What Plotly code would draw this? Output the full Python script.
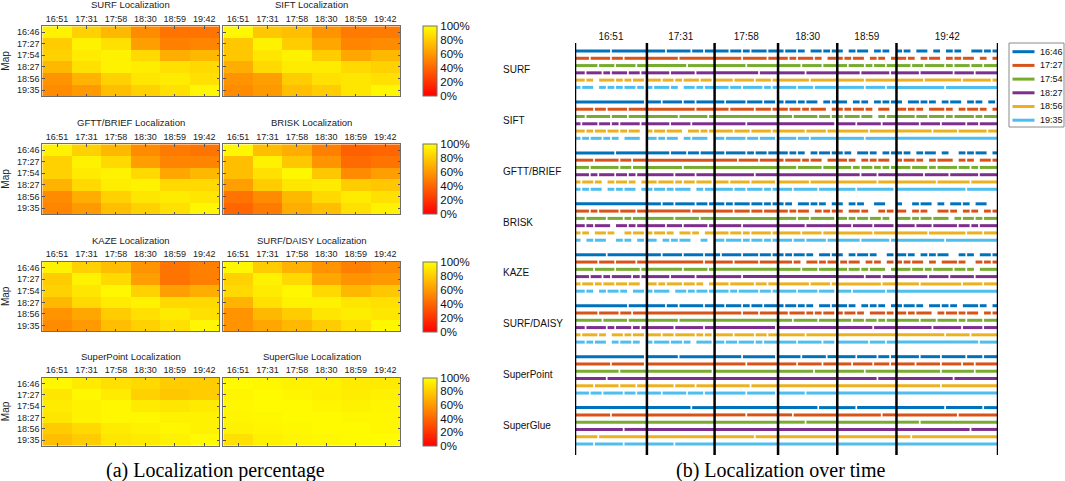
import plotly.graph_objects as go

W, H = 1065, 481

sessions = ["16:51", "17:31", "17:58", "18:30", "18:59", "19:42"]
maps = ["16:46", "17:27", "17:54", "18:27", "18:56", "19:35"]
methods = ["SURF", "SIFT", "GFTT/BRIEF", "BRISK", "KAZE", "SURF/DAISY", "SuperPoint", "SuperGlue"]
map_colors = ["#0072BD", "#D95319", "#77AC30", "#7E2F8E", "#EDB120", "#4DBEEE"]

# localization percentage, rows = map, cols = session
surf_pct = [[95, 82, 72, 55, 45, 45],
            [80, 95, 88, 62, 50, 52],
            [82, 92, 95, 85, 68, 72],
            [72, 88, 95, 93, 88, 85],
            [58, 70, 82, 90, 92, 88],
            [55, 60, 75, 82, 88, 97]]
sift_pct = [[97, 78, 75, 58, 48, 48],
            [78, 95, 80, 65, 52, 55],
            [78, 90, 95, 80, 65, 72],
            [68, 85, 92, 92, 85, 82],
            [58, 62, 80, 88, 90, 88],
            [55, 60, 75, 80, 90, 97]]
gftt_pct = [[95, 82, 72, 55, 48, 45],
            [82, 95, 85, 62, 52, 52],
            [82, 92, 95, 85, 65, 72],
            [70, 85, 93, 95, 85, 85],
            [55, 68, 82, 90, 92, 90],
            [52, 60, 75, 82, 88, 97]]
brisk_pct = [[97, 75, 68, 50, 38, 40],
             [75, 95, 78, 58, 42, 45],
             [75, 88, 97, 78, 55, 62],
             [62, 80, 90, 92, 80, 78],
             [45, 55, 72, 85, 92, 88],
             [40, 48, 68, 75, 88, 95]]
kaze_pct = [[95, 82, 75, 58, 45, 50],
            [80, 95, 85, 62, 45, 50],
            [82, 90, 97, 82, 62, 68],
            [72, 85, 92, 95, 85, 85],
            [58, 65, 80, 88, 92, 88],
            [55, 60, 75, 82, 88, 97]]
daisy_pct = [[97, 80, 70, 58, 50, 55],
             [82, 95, 85, 65, 58, 60],
             [85, 92, 97, 85, 72, 78],
             [70, 88, 95, 95, 90, 88],
             [58, 72, 80, 90, 93, 90],
             [58, 65, 72, 80, 88, 97]]
superpoint_pct = [[97, 92, 88, 85, 80, 80],
                  [90, 97, 92, 82, 78, 80],
                  [92, 95, 97, 92, 90, 92],
                  [90, 95, 97, 97, 95, 95],
                  [80, 85, 92, 95, 97, 95],
                  [75, 80, 90, 92, 95, 98]]
superglue_pct = [[98, 97, 95, 95, 92, 92],
                 [96, 98, 96, 94, 93, 94],
                 [97, 98, 98, 96, 95, 96],
                 [96, 97, 98, 98, 97, 97],
                 [95, 96, 97, 98, 98, 97],
                 [88, 94, 96, 97, 98, 99]]

# localized (#) / not localized (.) over time, one string per map, sessions split by |
session_len = [17, 16, 15, 14, 14, 24]
surf_track = [
    "########.########|####.#####.##.##|###.##.#.###.##|#.##.#..##.#.#|#..#.##..#.#..|#.#..##..#..#.#...##.#.#",
    "###.####.##.#####|#######.########|######.#####.##|##.#.###.#..##|#.#.##..#.#..#|##.#..#.##..#.#.##..#..#",
    "#####.###.####.##|#########.######|#######.#######|#####.####.###|##.###.#.##.##|###.##.####.#.###.##.###",
    "##.###.#.###.##.#|#####.#####.####|##########.####|######.#######|#####.######.#|#####.#######.####.#####",
    "##.#..###.#.#.##.|###.##.#.###.##.|####.####.###.#|#######.######|######.#######|######.########.######.#",
    "#.##..#.#.#.##.#.|#.###.#..##.#.##|###.##.####.#.#|####.###.#####|######.####.##|###########.############",
]
sift_track = [
    "################.|###.####.##.####|##.####.###.##.|#.##.#.##..#.#|##..#.#..#.#.#|#..##.#.#..#.##..#.#..#.",
    "####.##.####.####|###########.####|###.#####.###.#|##.##.#.###..#|#.#.##.#..##..|##.#.#..###.#..#.##.#..#",
    "##.#####.###.####|#######.######.#|###############|###.#####.##.#|#.###.##..#.##|####.##.###.#.####.#.###",
    "#.###.##.#.####.#|#####.####.#####|#######.#######|#############.|####.#####.###|#####.####.#####.##.####",
    "##.#.##.##.#.##..|#.##.###..##.#.#|####.###.####.#|######.####.##|#######.######|########.#####.######.##",
    "#.#.##.#.#..###..|##.#.##..#.###..|##.####.##.###.|####.##.######|######.#######|########################",
]
gftt_track = [
    "#########.#######|#####.###.##.###|##.####.#.##.##|##.#.#..#.##.#|#.#..##.#..#.#|#.#..#.##..#...#.#.##..#",
    "####.#####.##.###|################|#####.####.####|#.###.#.##..##|##.#..#.#.##..|#.##.#..#.###..#.#..##.#",
    "###.######.##.###|########.#######|###############|####.#####.###|###.#.##.#.#.#|###.###.#.####.##.#.####",
    "###.#.###.##.#.##|######.####.####|#########.#####|##############|#####.###.####|######.#####.######.####",
    "#.##.#..#.##.#..#|##.###.#.##.###.|###.####.#####.|#######.######|#########.####|#########.#######.######",
    "#.#.##..#.#.##..#|#.##.#.###..#.##|####.##.###.#.#|###.#####.####|####.########.|################.#######",
]
brisk_track = [
    "#################|###.##.####.##.#|##.#.###.##.#.#|#.#..##.#.#..#|#..#.#...##...|#...#.##..#..##.#..##...",
    "###.#.####.###.##|##########.#####|####.###.##.###|##.#.##..#.#.#|#..##.#...#.#.|##..#.#...##.#..#.#..#.#",
    "##.####.###.#.###|######.#####.###|###############|####.##.#####.|##.#.##.##.#..|###.#.##.###..#.##.#.###",
    "##.#.###..##.#.##|####.###.#####.#|######.########|######.#######|###.####.####.|####.###.#####.##.#.####",
    "#.#..##.#...#.##.|#.##.#..##.#..##|###.##.#.####.#|#####.####.###|########.#####|#######.########.###.###",
    "#..#.##...#.#..#.|##..#.#.##...#..|##.###.#.##.#.#|###.##.####.##|#####.######.#|###########.############",
]
kaze_track = [
    "#######.#########|###.####.####.##|#.####.###.##.#|#.#.##.#..##.#|#..#.##.#...#.|##.#..#.#.##...#.#..##.#",
    "#####.###.####.##|#############.##|####.#####.####|###.#..##.#.##|.#.##..#.#..#.|#.#.##..#..###.#...#.#.#",
    "####.####.#####.#|########.#####.#|###############|#####.###.####|##.##.#.###..#|###.##.#.####.##.#..####",
    "###.##.#.####.#.#|#####.#####.####|######.########|##############|######.###.###|#######.####.#####.#####",
    "#.##.#.##.##.##..|##.#.###.##.#..#|###.#####.##.##|#######.####.#|##########.###|#####.#########.####.###",
    "##.#..#.##.#..##.|#.###..##.#.##.#|###.#.####.##.#|####.####.###.|###.#######.##|########################",
]
daisy_track = [
    "############.####|####.##.#####.##|##.###.#.##.###|#.##.#.#..##.#|##.#..#.#.#..#|#.##.#..##.#.#..###.#..#",
    "#####.####.##.###|################|######.###.####|##.###.#.#.##.|#.##.#..###.#.|##.#.###..#.##.#.##..#.#",
    "######.#####.####|#######.########|###############|###.#####.####|###.##.##.#.##|#####.###.####.#.###.###",
    "##.####.#.###.#.#|######.######.##|##############.|##############|########.#####|########.######.####.###",
    "#.###.#..##.#.##.|###.##.####.#.#.|####.####.##.##|######.#######|##############|###########.#####.######",
    "##.#.##..#.##.#..|#.###.##.#..###.|##.##.###.#.###|####.#####.##.|#######.###.##|###################.####",
]
superpoint_track = [
    "################.|#######.########|######.#######.|#####.#####.##|####.####.##.#|#####.####.#####.###.###",
    "########.#######.|################|#######.#######|####.#####.###|###.####.###.#|####.#####.####.##.#####",
    "##########.######|###############.|###############|########.#####|######.#######|##########.#######.#####",
    "#######.#########|################|###############|##############|#########.####|#############.##########",
    "####.#####.###.##|######.####.####|########.######|##############|##############|##########.#############",
    "###.##.####.##.##|###.#####.###.##|#######.######.|######.#######|##############|########################",
]
superglue_track = [
    "#################|##########.#####|###############|#########.####|####.#########|###########.########.###",
    "########.########|################|#######.#######|###.##########|##########.###|##############.#########",
    "#################|################|###############|######.#######|##############|#####.##################",
    "###########.#####|################|###############|##############|##############|#################.######",
    "#####.###########|################|#########.#####|##############|##############|###.####################",
    "####.######.#####|######.#########|###############|##############|##############|########################",
]

all_pct = [surf_pct, sift_pct, gftt_pct, brisk_pct, kaze_pct, daisy_pct, superpoint_pct, superglue_pct]
all_tracks = [surf_track, sift_track, gftt_track, brisk_track, kaze_track, daisy_track,
              superpoint_track, superglue_track]

FONT = "Liberation Sans, Arial, sans-serif"
SERIF = "Liberation Serif, Times New Roman, serif"
autumn = [[0, "rgb(255,0,0)"], [1, "rgb(255,255,0)"]]


def px_x(x):
    return x / W


def px_y(y):
    return 1 - y / H


fig = go.Figure()
layout = {}
annotations = []
shapes = []

# ---------- (a) heatmaps ----------
col_x = [(42.3, 219.0), (223.3, 400.0)]
row_top = [26.3, 144.3, 261.7, 377.7]
row_h = [69.7, 69.7, 69.7, 68.0]

for i, method in enumerate(methods):
    r, c = divmod(i, 2)
    ax = i + 1
    x0, x1 = col_x[c]
    top, bottom = row_top[r], row_top[r] + row_h[r]
    showscale = c == 1
    fig.add_trace(go.Heatmap(
        z=all_pct[i], x=list(range(6)), y=list(range(6)),
        colorscale=autumn, zmin=0, zmax=100,
        xaxis=f"x{ax}", yaxis=f"y{ax}",
        showscale=showscale,
        colorbar=dict(
            x=px_x(422.7), xanchor="left", xpad=0,
            y=px_y((top + bottom) / 2), yanchor="middle", ypad=0,
            len=bottom - top, lenmode="pixels", thickness=13.5,
            outlinecolor="#707070", outlinewidth=1,
            tickvals=[0, 20, 40, 60, 80, 100],
            ticktext=["0%", "20%", "40%", "60%", "80%", "100%"],
            ticks="", tickfont=dict(size=11.5, color="#111", family=FONT),
        ),
        hovertemplate="map %{y}<br>session %{x}<br>%{z}%<extra></extra>",
    ))
    layout[f"xaxis{ax}"] = dict(
        domain=[px_x(x0), px_x(x1)], anchor=f"y{ax}", range=[-0.5, 5.5],
        tickvals=list(range(6)), ticktext=sessions, side="top",
        ticks="inside", ticklen=2.5, tickcolor="#555", tickwidth=1,
        showline=True, linecolor="#6e6e6e", linewidth=1, mirror="ticks",
        showgrid=False, zeroline=False,
        tickfont=dict(size=9, color="#222", family=FONT),
    )
    layout[f"yaxis{ax}"] = dict(
        domain=[px_y(bottom), px_y(top)], anchor=f"x{ax}", range=[5.5, -0.5],
        tickvals=list(range(6)), ticktext=maps, showticklabels=(c == 0),
        ticks="inside", ticklen=2.5, tickcolor="#555", tickwidth=1,
        showline=True, linecolor="#6e6e6e", linewidth=1, mirror="ticks",
        showgrid=False, zeroline=False,
        tickfont=dict(size=9, color="#222", family=FONT),
    )
    annotations.append(dict(
        text=f"{method} Localization", x=px_x((x0 + x1) / 2), y=px_y(top - 21.5),
        xref="paper", yref="paper", xanchor="center", yanchor="middle",
        showarrow=False, font=dict(size=9.5, color="#222", family=FONT),
    ))
    if c == 0:
        annotations.append(dict(
            text="Map", x=px_x(5.5), y=px_y((top + bottom) / 2), textangle=-90,
            xref="paper", yref="paper", xanchor="center", yanchor="middle",
            showarrow=False, font=dict(size=10, color="#222", family=FONT),
        ))

# ---------- (b) localization over time ----------
bounds = [0]
for n in session_len:
    bounds.append(bounds[-1] + n)
group_step = 7
pad = 0.3

xs = [[] for _ in maps]
ys = [[] for _ in maps]
for m, rows in enumerate(all_tracks):
    for k, row in enumerate(rows):
        yv = m * group_step + k
        for j, seg in enumerate(row.split("|")):
            lo, hi = bounds[j], bounds[j + 1]
            unit = session_len[j] / len(seg)
            i = 0
            while i < len(seg):
                if seg[i] == "#":
                    s = i
                    while i < len(seg) and seg[i] == "#":
                        i += 1
                    xs[k] += [max(lo, lo + s * unit - pad), min(hi, lo + i * unit + pad), None]
                    ys[k] += [yv, yv, None]
                else:
                    i += 1

for k, name in enumerate(maps):
    fig.add_trace(go.Scatter(
        x=xs[k], y=ys[k], mode="lines", name=name,
        line=dict(color=map_colors[k], width=3),
        xaxis="x9", yaxis="y9", showlegend=False, hoverinfo="skip",
    ))

plot_top, plot_bottom = 43, 455
row0_px, rowN_px = 51.0, 444.0
n_last = (len(methods) - 1) * group_step + 5
upp = n_last / (rowN_px - row0_px)
layout["xaxis9"] = dict(
    domain=[px_x(575), px_x(998)], anchor="y9", range=[0, bounds[-1]],
    tickvals=[(bounds[j] + bounds[j + 1]) / 2 for j in range(len(sessions))],
    ticktext=sessions, side="top", ticks="", showline=False,
    showgrid=False, zeroline=False,
    tickfont=dict(size=10, color="#111", family=FONT),
)
layout["yaxis9"] = dict(
    domain=[px_y(plot_bottom), px_y(plot_top)], anchor="x9",
    range=[n_last + (plot_bottom - rowN_px) * upp, -(row0_px - plot_top) * upp],
    showticklabels=False, ticks="", showline=False, showgrid=False, zeroline=False,
)

for b in bounds:
    shapes.append(dict(
        type="line", xref="x9", yref="paper", x0=b, x1=b,
        y0=px_y(plot_bottom), y1=px_y(plot_top),
        line=dict(color="black", width=2.5), layer="above",
    ))

for m, method in enumerate(methods):
    annotations.append(dict(
        text=method, x=px_x(500.5), y=m * group_step + 2.5, xref="paper", yref="y9",
        xanchor="left", yanchor="middle", showarrow=False,
        font=dict(size=10, color="#111", family=FONT),
    ))

# legend box
shapes.append(dict(
    type="rect", xref="paper", yref="paper",
    x0=px_x(1009), x1=px_x(1064), y0=px_y(127), y1=px_y(43),
    line=dict(color="#8a8a8a", width=1), fillcolor="white",
))
for k, name in enumerate(maps):
    yk = 51.7 + 13.7 * k
    shapes.append(dict(
        type="line", xref="paper", yref="paper",
        x0=px_x(1012.5), x1=px_x(1034.5), y0=px_y(yk), y1=px_y(yk),
        line=dict(color=map_colors[k], width=3),
    ))
    annotations.append(dict(
        text=name, x=px_x(1038), y=px_y(yk), xref="paper", yref="paper",
        xanchor="left", yanchor="middle", showarrow=False,
        font=dict(size=9, color="#111", family=FONT),
    ))

# captions
annotations.append(dict(
    text="(a) Localization percentage", x=px_x(215), y=px_y(470),
    xref="paper", yref="paper", xanchor="center", yanchor="middle",
    showarrow=False, font=dict(size=20, color="black", family=SERIF),
))
annotations.append(dict(
    text="(b) Localization over time", x=px_x(780), y=px_y(470),
    xref="paper", yref="paper", xanchor="center", yanchor="middle",
    showarrow=False, font=dict(size=20, color="black", family=SERIF),
))

fig.update_layout(
    width=W, height=H,
    margin=dict(l=0, r=0, t=0, b=0),
    paper_bgcolor="white", plot_bgcolor="white",
    font=dict(family=FONT),
    annotations=annotations, shapes=shapes,
    showlegend=False,
    **layout,
)

# the page body has a default 8px margin; drop it so the figure fills the window
fig.write_html(
    "out.html",
    config={"displayModeBar": False},
    post_script="document.body.style.margin='0';document.body.style.overflow='hidden';",
)
